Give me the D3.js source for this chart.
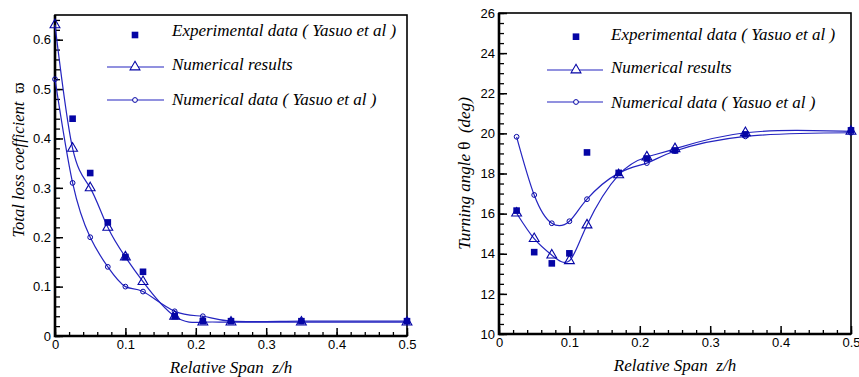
<!DOCTYPE html>
<html>
<head>
<meta charset="utf-8">
<script src="https://cdn.jsdelivr.net/npm/d3@7"></script>
<style>
  html, body { margin: 0; padding: 0; background: #fff; }
  svg { display: block; }
</style>
</head>
<body>
<svg id="chart" width="859" height="377"></svg>
<script>
// Relative span positions (z/h)
const spanLoss = [0, 0.025, 0.05, 0.075, 0.1, 0.125, 0.17, 0.21, 0.25, 0.35, 0.5];
const spanExp = [0.025, 0.05, 0.075, 0.1, 0.125, 0.17, 0.21, 0.25, 0.35, 0.5];
const spanTurn = [0.025, 0.05, 0.075, 0.1, 0.125, 0.17, 0.21, 0.25, 0.35, 0.5];

// Total loss coefficient
const lossExperimental = [0.44, 0.33, 0.23, 0.16, 0.13, 0.04, 0.03, 0.03, 0.03, 0.03];
const lossNumerical = [0.63, 0.38, 0.30, 0.22, 0.16, 0.11, 0.04, 0.028, 0.028, 0.028, 0.028];
const lossYasuoNumerical = [0.52, 0.31, 0.20, 0.14, 0.10, 0.09, 0.05, 0.04, 0.03, 0.03, 0.03];

// Turning angle (deg)
const turnExperimental = [16.15, 14.08, 13.52, 14.02, 19.05, 18.03, 18.75, 19.15, 19.95, 20.15];
const turnNumerical = [16.02, 14.75, 13.93, 13.65, 15.43, 17.93, 18.82, 19.23, 20.03, 20.1];
const turnYasuoNumerical = [19.83, 16.93, 15.52, 15.62, 16.72, 18.02, 18.52, 19.12, 19.85, 20.03];

// Axis ticks
const spanTicks = [0, 0.1, 0.2, 0.3, 0.4, 0.5];
const lossTicks = [0, 0.1, 0.2, 0.3, 0.4, 0.5, 0.6];
const turnTicks = [10, 12, 14, 16, 18, 20, 22, 24, 26];

const legendLabels = ["Experimental data ( Yasuo et al )", "Numerical results", "Numerical data ( Yasuo et al )"];

const serif = "Liberation Serif";
const sans = "Liberation Sans";
const svg = d3.select("#chart");
const markColor = "#0505a5";
const lineColor = "#2424c0";

function range(a, b, step) {
  const out = [];
  for (let v = a; v <= b + 1e-9; v += step) out.push(+v.toFixed(4));
  return out;
}

function styleAxis(a, w) {
  a.select(".domain").remove();
  a.attr("font-family", sans).attr("font-size", 13);
  a.selectAll("line").attr("stroke-width", w);
  a.selectAll("text").attr("fill", "#000");
}

function drawPanel(opt) {
  const g = svg.append("g");
  const x = opt.x, y = opt.y;
  const [x0, x1] = x.range();
  const [yb, yt] = y.range();

  // minor ticks
  g.append("g").attr("transform", `translate(0,${yb})`)
    .call(d3.axisBottom(x).tickValues(range(0, 0.5, 0.02)).tickSize(-4).tickFormat(""))
    .call(a => styleAxis(a, 1.3));
  g.append("g").attr("transform", `translate(${x0},0)`)
    .call(d3.axisLeft(y).tickValues(opt.yMinor).tickSize(-5).tickFormat(""))
    .call(a => styleAxis(a, 1.3));

  // major ticks
  g.append("g").attr("transform", `translate(0,${yb})`)
    .call(d3.axisBottom(x).tickValues(spanTicks).tickSize(-8).tickPadding(4).tickFormat(d3.format("")))
    .call(a => styleAxis(a, 1.5));
  g.append("g").attr("transform", `translate(${x0},0)`)
    .call(d3.axisLeft(y).tickValues(opt.yTicks).tickSize(-8).tickPadding(opt.yPad).tickFormat(d3.format("")))
    .call(a => styleAxis(a, 1.5));

  // frame
  g.append("rect").attr("x", x0).attr("y", yt).attr("width", x1 - x0).attr("height", yb - yt)
    .attr("fill", "none").attr("stroke", "#000").attr("stroke-width", 1.6);
  g.append("path").attr("d", `M${x0},${yt}V${yb}H${x1}`)
    .attr("fill", "none").attr("stroke", "#000").attr("stroke-width", 2.6);

  const line = d3.line().curve(d3.curveNatural).x(d => x(d[0])).y(d => y(d[1]));
  const plot = g.append("g");

  // Yasuo numerical curve with circles
  const circ = opt.spanNum.map((s, i) => [s, opt.yasuo[i]]);
  plot.append("path").attr("d", line(circ)).attr("fill", "none").attr("stroke", lineColor).attr("stroke-width", 1.2);
  // numerical results curve with triangles
  const tri = opt.spanNum.map((s, i) => [s, opt.num[i]]);
  plot.append("path").attr("d", line(tri)).attr("fill", "none").attr("stroke", lineColor).attr("stroke-width", 1.2);

  const triSym = d3.symbol().type(d3.symbolTriangle).size(42);
  plot.selectAll(".tri").data(tri).join("path")
    .attr("transform", d => `translate(${x(d[0])},${y(d[1])})`)
    .attr("d", triSym).attr("fill", "none").attr("stroke", markColor).attr("stroke-width", 1.1);
  plot.selectAll(".circ").data(circ).join("circle")
    .attr("cx", d => x(d[0])).attr("cy", d => y(d[1])).attr("r", 2.4)
    .attr("fill", "none").attr("stroke", markColor).attr("stroke-width", 1);

  // experimental squares
  const sq = opt.spanExp.map((s, i) => [s, opt.exp[i]]);
  plot.selectAll(".sq").data(sq).join("rect")
    .attr("x", d => x(d[0]) - 3.3).attr("y", d => y(d[1]) - 3.3)
    .attr("width", 6.6).attr("height", 6.6).attr("fill", markColor);

  // legend
  const L = opt.legend;
  const lg = g.append("g");
  lg.append("rect").attr("x", L.mx - 3.3).attr("y", L.my[0] - 3.3).attr("width", 6.6).attr("height", 6.6).attr("fill", markColor);
  lg.append("line").attr("x1", L.lx0).attr("x2", L.lx1).attr("y1", L.my[1]).attr("y2", L.my[1]).attr("stroke", lineColor).attr("stroke-width", 1.2);
  lg.append("path").attr("transform", `translate(${L.mx},${L.my[1]})`).attr("d", triSym)
    .attr("fill", "#fff").attr("stroke", markColor).attr("stroke-width", 1.1);
  lg.append("line").attr("x1", L.lx0).attr("x2", L.lx1).attr("y1", L.my[2]).attr("y2", L.my[2]).attr("stroke", lineColor).attr("stroke-width", 1.2);
  lg.append("circle").attr("cx", L.mx).attr("cy", L.my[2]).attr("r", 2.4)
    .attr("fill", "#fff").attr("stroke", markColor).attr("stroke-width", 1);
  legendLabels.forEach((t, i) => {
    lg.append("text").attr("x", L.tx).attr("y", L.ty[i])
      .attr("font-family", serif).attr("font-style", "italic")
      .attr("font-size", 17).attr("fill", "#000").text(t);
  });

  // axis titles
  g.append("text").attr("x", (x0 + x1) / 2).attr("y", yb + 37)
    .attr("text-anchor", "middle").attr("font-size", 17)
    .attr("font-family", serif).attr("font-style", "italic").attr("fill", "#000")
    .attr("xml:space", "preserve").text("Relative Span  z/h");
  const yt2 = g.append("text")
    .attr("transform", `translate(${opt.yTitle.x},${opt.yTitle.y}) rotate(-90)`)
    .attr("text-anchor", "middle").attr("dy", "0.35em").attr("font-size", opt.yTitle.size)
    .attr("font-family", serif).attr("font-style", "italic").attr("fill", "#000")
    .attr("xml:space", "preserve");
  yt2.append("tspan").text(opt.yTitle.text);
  yt2.append("tspan").attr("font-style", "normal").text(opt.yTitle.sym);
  if (opt.yTitle.tail) yt2.append("tspan").text(opt.yTitle.tail);
}

drawPanel({
  x: d3.scaleLinear([0, 0.5], [55, 407]),
  y: d3.scaleLinear([0, 0.65], [336, 15]),
  yTicks: lossTicks, yMinor: range(0, 0.64, 0.02), yPad: 4,
  spanNum: spanLoss, spanExp: spanExp,
  exp: lossExperimental, num: lossNumerical, yasuo: lossYasuoNumerical,
  legend: { mx: 135, lx0: 107, lx1: 164, my: [35, 67, 100], tx: 172, ty: [36, 70, 104.5] },
  yTitle: { x: 18, y: 160, size: 16.5, text: "Total loss coefficient  ", sym: "ϖ" }
});

drawPanel({
  x: d3.scaleLinear([0, 0.5], [499, 851]),
  y: d3.scaleLinear([10, 26], [334, 13]),
  yTicks: turnTicks, yMinor: range(10, 26, 0.5), yPad: 4,
  spanNum: spanTurn, spanExp: spanExp,
  exp: turnExperimental, num: turnNumerical, yasuo: turnYasuoNumerical,
  legend: { mx: 576, lx0: 547, lx1: 603, my: [36.7, 70, 102], tx: 611, ty: [39.5, 73, 107.5] },
  yTitle: { x: 464, y: 173.5, size: 17, text: "Turning angle ", sym: "θ", tail: "  (deg)" }
});
</script>
</body>
</html>
